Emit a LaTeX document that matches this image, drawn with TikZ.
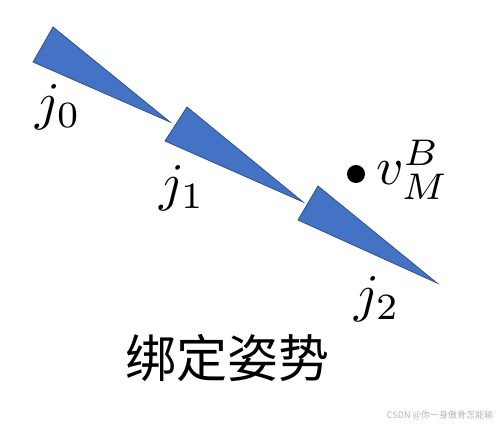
\documentclass[tikz,border=0pt]{standalone}
\usepackage{fontspec}
\newfontfamily\cjk{Noto Sans CJK SC}
\definecolor{boneblue}{HTML}{4472C4}
\definecolor{boneedge}{HTML}{2F528F}
\definecolor{wmgray}{HTML}{B4B4B4}
\tikzset{
  bone/.style={fill=boneblue, draw=boneedge, line width=0.8pt, line join=miter},
  jointlabel/.style={inner sep=0pt, scale=5.3},
}
\begin{document}
\begin{tikzpicture}[x=1pt,y=-1pt]
\useasboundingbox (0,0) rectangle (504,426);
% bones
\coordinate (a0) at (53,27);
\coordinate (b0) at (33,62);
\coordinate (t0) at (170,122);
\coordinate (a1) at (187,107);
\coordinate (b1) at (165,141);
\coordinate (t1) at (303,202);
\coordinate (a2) at (318,186);
\coordinate (b2) at (298,220);
\coordinate (t2) at (437,283);
\filldraw[bone] (a0) -- (t0) -- (b0) -- cycle;
\filldraw[bone] (a1) -- (t1) -- (b1) -- cycle;
\filldraw[bone] (a2) -- (t2) -- (b2) -- cycle;
% labels
\node[jointlabel] (j0) at (58,107) {$j_0$};
\node[jointlabel] (j1) at (182,188) {$j_1$};
\node[jointlabel] (j2) at (377,299) {$j_2$};
\node[circle, fill=black, inner sep=0pt, minimum size=18pt] (dot) at (356,174) {};
\node[jointlabel, anchor=west] (v) at (375,170) {$v_M^B$};
\node[font=\cjk\fontsize{51}{60}\selectfont, inner sep=0pt] (title) at (227,358) {绑定姿势};
\node[font=\cjk\fontsize{9}{10}\selectfont, text=wmgray, inner sep=0pt] (wm) at (440,415) {CSDN @你一身傲骨怎能输};
\end{tikzpicture}
\end{document}
